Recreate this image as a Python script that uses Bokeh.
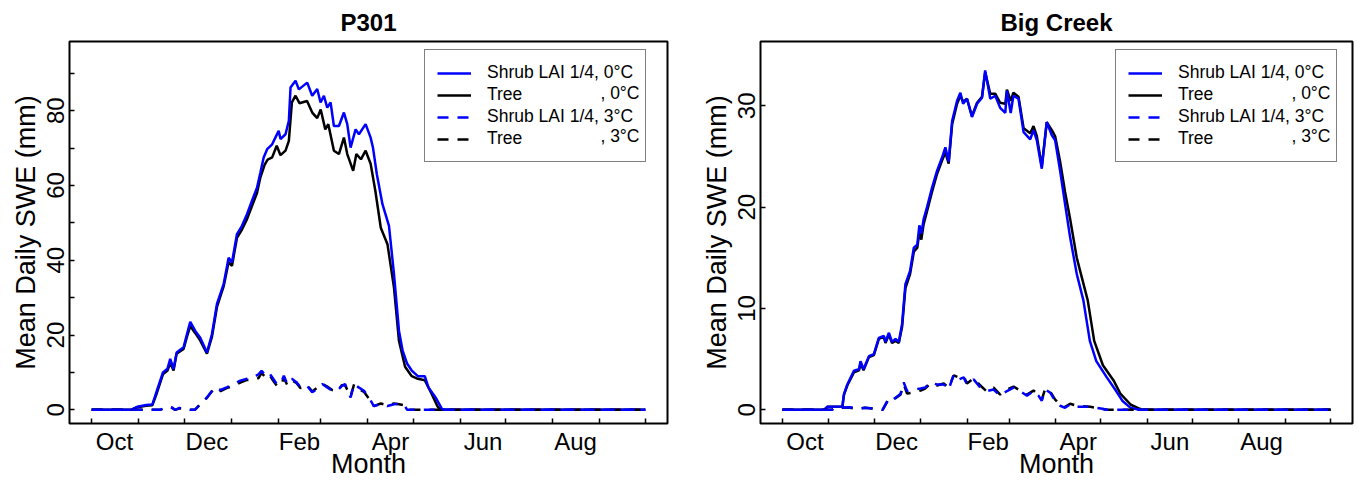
from bokeh.plotting import figure
from bokeh.layouts import row
from bokeh.models import Range1d, FixedTicker, Legend, LegendItem, Label
from bokeh.embed import file_html
from bokeh.resources import INLINE

FONT = "Liberation Sans"
BLUE = "#0000FF"
BLACK = "#000000"

# ---- axis definitions (day of water year, 0 = Oct 1) ----
month_start_days = [0, 31, 61, 92, 123, 151, 182, 212, 243, 273, 304, 335, 365]
month_label_days = [15, 76, 137, 197, 258, 319]
month_labels = ["Oct", "Dec", "Feb", "Apr", "Jun", "Aug"]

legend_labels = ["Shrub LAI 1/4, 0°C", "Tree", "Shrub LAI 1/4, 3°C", "Tree"]
legend_suffix = ["", ", 0°C", "", ", 3°C"]

# ---------------- P301 ----------------
p301_shrub0_day = [0, 26, 30, 36, 40, 43, 47, 50, 51.8, 54, 56, 60.6, 62.8, 65, 68.3, 71.6, 76, 79.3,
                   82.6, 87, 90.3, 92.5, 95.8, 99.1, 102.4, 105.7, 109, 111.2, 113.4, 115.7, 119, 121.1,
                   123.3, 124.5, 127.8, 130, 131.1, 134.4, 136.6, 142.1, 145.4, 148.7, 150.9, 153.1, 155.3,
                   157.5, 159.7, 163, 166.3, 168.5, 170.7, 174, 176.2, 180.6, 183.9, 185.5, 188, 191.7,
                   196, 199.3, 202.6, 205, 208, 211, 215, 219.6, 222, 226.7, 231, 233, 365]
p301_shrub0_swe = [0, 0, 0.8, 1.3, 1.4, 5.1, 10, 11, 13.6, 10.9, 15.3, 16.7, 20.2, 23.5, 21.1, 19.3, 15.3, 20.2,
                   28.3, 33.6, 40.7, 39.4, 47, 49.2, 52.3, 55.9, 59.4, 63.4, 67.5, 69.7, 71, 72.8,
                   74.6, 72.4, 73.7, 77.3, 86.2, 88, 85.7, 87.5, 84, 85.8, 82.2, 84, 80.8,
                   82.2, 75.9, 75.9, 79.5, 76.4, 70.1, 75, 73.7, 76.4, 72.8, 70, 63, 55,
                   49.2, 36.3, 21.1, 15.8, 12.3, 10.5, 9, 9, 6, 3.3, 0.2, 0, 0]

p301_tree0_day = [0, 26, 30, 36, 40, 43, 47, 50, 51.8, 54, 56, 60.6, 62.8, 65, 68.3, 71.6, 76, 79.3,
                  82.6, 87, 90.3, 92.5, 95.8, 99.1, 102.4, 105.7, 109, 111.2, 114, 116, 119, 122,
                  124.5, 127.8, 130, 132, 134.4, 137, 142, 145.4, 148.7, 151, 154, 156, 159.7, 163,
                  166.3, 168.5, 172.4, 174.5, 177.5, 180.6, 183.9, 187, 190.6, 195, 199.3, 202.6,
                  206.6, 211, 215, 219.6, 224, 228, 230, 365]
p301_tree0_swe = [0, 0, 0.7, 1.1, 1.2, 4.5, 9.5, 10.5, 12.5, 10.5, 15, 16.3, 19.5, 22.4, 20.5, 18.5, 15, 19.5,
                  27.5, 33, 39.5, 38.5, 46, 48.2, 51, 54.5, 58, 62.1, 65.5, 66.9, 67.5, 70.6,
                  68.1, 69.3, 71.9, 82.2, 84, 82, 82.6, 79.5, 78, 80.3, 75, 76.4, 69.3, 68.4,
                  72.8, 68.4, 63.9, 68.4, 67, 69.3, 65.8, 58.6, 48.7, 44.3, 32.7, 18.4,
                  11.5, 9, 8.3, 7.9, 4.4, 0.9, 0, 0]

p301_shrub3_day = [0, 34, 45, 50.5, 53, 55, 58, 62, 65, 68, 71.6, 76, 81, 85, 89, 93.7, 98, 102.4, 106.8,
                   110, 112, 114.5, 116.8, 119, 122, 124.5, 126.7, 129, 132, 135, 137.7, 142, 145.4,
                   148.7, 152, 155.3, 158.6, 161.8, 165, 167, 170.7, 173, 176, 179.5, 182.8, 186,
                   190.6, 195, 199.3, 202.6, 206, 208, 365]
p301_shrub3_swe = [0, 0, 0, 0.9, 0.6, 0, 0.5, 0.2, 0, 0, 1.5, 3.3, 6, 5.3, 6, 6.9, 7.8, 8.3, 8.7,
                   9.5, 10.4, 9.3, 10, 8.7, 6.9, 6.9, 9.1, 6.9, 8.3, 7.4, 6, 6.4, 4.7,
                   5.6, 6.9, 6, 5.1, 5.1, 6.4, 6.9, 3.3, 6.9, 6, 5.1, 3.3, 1,
                   1.5, 1, 1.5, 1.6, 1.3, 0, 0]

p301_tree3_day = [0, 34, 45, 50.5, 53, 55, 58, 62, 65, 68, 71.6, 76, 81, 85, 89, 93.7, 98, 102.4, 106.8,
                  110, 112, 114.5, 116.8, 119, 122, 124.5, 126.7, 129, 132, 135, 137.7, 142, 145.4,
                  148.7, 152, 155.3, 158.6, 161.8, 165, 167, 170.7, 173, 176, 179.5, 182.8, 186,
                  190.6, 195, 199.3, 202.6, 206, 208, 365]
p301_tree3_swe = [0, 0, 0, 0.8, 0.5, 0, 0.4, 0.2, 0, 0, 1.4, 3.2, 5.8, 5.0, 5.8, 6.5, 7.3, 8.0, 8.0,
                  8.5, 9.8, 8.8, 9.6, 8.2, 6.5, 6.3, 8.5, 6.6, 7.9, 7.2, 5.8, 6.6, 4.9,
                  5.9, 7.0, 6.2, 5.3, 5.0, 6.6, 6.6, 3.6, 6.8, 5.6, 4.8, 3.0, 1.0,
                  1.7, 1.2, 1.7, 1.5, 1.2, 0, 0]

# ---------------- Big Creek ----------------
bc_shrub0_day = [0, 27.7, 30, 40, 40.5, 41, 43.2, 47.6, 51, 52, 54, 57.6, 60.9, 64.2, 67.5, 68.6, 70.9, 73,
                 75.3, 77.5, 79.7, 81.9, 85, 87.5, 89.8, 91.2, 92.5, 94, 96.3, 99.6, 103, 106.3, 108.5,
                 110.7, 113, 116.3, 118.5, 120.3, 122.9, 126.2, 129.6, 132.9, 135, 138.4, 141.7, 145,
                 148.4, 149.5, 152, 153.8, 157.2, 160.6, 165, 167.2, 169.4, 172.7, 176, 179.4, 181.6,
                 184.9, 188.2, 191.6, 196, 200.4, 204.7, 209, 216, 222, 226.3, 232, 238, 365]
bc_shrub0_swe = [0, 0, 0.3, 0.33, 1.0, 1.55, 2.5, 3.85, 4, 4.8, 4.0, 5.3, 5.5, 7.1, 7.3, 6.7, 7.6, 6.7,
                 7.0, 6.7, 8.5, 12.4, 13.7, 16, 16.3, 18.2, 17.4, 18.8, 20, 21.9, 23.6, 24.9, 25.9,
                 24.5, 28.5, 30.5, 31.3, 30.2, 30.7, 28.9, 30.2, 30.8, 33.5, 30.7, 31, 29.8,
                 29.3, 31.5, 29.3, 31, 30.7, 27.4, 26.7, 27.6, 26.6, 23.8, 28.4, 27.1, 26.6,
                 23.6, 20.3, 17, 13.4, 10.8, 6.8, 4.8, 3.2, 1.9, 0.9, 0.17, 0, 0]

bc_tree0_day = [0, 27.7, 30, 40, 40.5, 41, 43.2, 47.6, 51, 52, 54, 57.6, 60.9, 64.2, 67.5, 68.6, 70.9, 73,
                75.3, 77.5, 79.7, 81.9, 85, 87.5, 89.8, 91.2, 92.5, 94, 96.3, 99.6, 103, 106.3, 108.5,
                110.7, 113, 116.3, 118.5, 120.3, 122.9, 126.2, 129.6, 132.9, 135, 138.4, 141.7, 145,
                148.4, 149.5, 152, 153.8, 157.2, 160.6, 165, 167.2, 169.4, 172.7, 176, 179.4, 181.6,
                184.9, 188.2, 191.6, 196, 203.3, 207.6, 213.4, 220.5, 225, 232, 238, 240, 365]
bc_tree0_swe = [0, 0, 0.3, 0.33, 1.0, 1.5, 2.4, 3.7, 3.9, 4.6, 3.9, 5.2, 5.4, 7.0, 7.2, 6.6, 7.4, 6.6,
                6.8, 6.6, 8.2, 12.0, 13.4, 15.6, 16.0, 17.5, 16.8, 18.3, 19.6, 21.5, 23.3, 24.6, 25.4,
                24.3, 28.2, 30.2, 31.0, 30.4, 30.7, 29.0, 30.3, 30.9, 33.3, 31.2, 31.2, 30.3,
                30.2, 31.6, 30.5, 31.3, 30.9, 27.8, 27.3, 28.0, 27.0, 24.0, 28.4, 27.6, 27.0,
                24.5, 21.5, 18.8, 15.0, 10.8, 6.8, 4.4, 2.9, 1.6, 0.5, 0.1, 0, 0]

bc_shrub3_day = [0, 33, 35, 45, 50, 55, 62, 66.7, 71, 74, 78.6, 80.8, 83, 87, 92, 95, 98.5, 103, 107.4,
                 110.7, 114.1, 117.4, 120.7, 122.9, 127.3, 131.8, 136.2, 140.6, 145, 149.5, 153.9,
                 158.3, 162.8, 167.2, 170.5, 172.7, 175, 178.3, 181.6, 185, 188.2, 191.6, 196, 205,
                 213, 216, 365]
bc_shrub3_swe = [0, 0, 0.2, 0.25, 0.1, 0.2, 0.1, 0, 1.2, 1.05, 1.55, 2.7, 1.85, 2.0, 2.1, 2.2, 2.7, 2.5, 2.5,
                 2.0, 3.5, 3.0, 3.2, 2.5, 3.0, 2.2, 1.85, 2.0, 1.4, 1.85, 2.2,
                 1.85, 1.4, 1.85, 1.4, 0.9, 2.0, 1.7, 0.9, 0.4, 0.2, 0.55, 0.3, 0.3,
                 0.1, 0, 0]

bc_tree3_day = [0, 33, 35, 45, 50, 55, 62, 66.7, 71, 74, 78.6, 80.8, 83, 87, 92, 95, 98.5, 103, 107.4,
                110.7, 114.1, 117.4, 120.7, 122.9, 127.3, 131.8, 136.2, 140.6, 145, 149.5, 153.9,
                158.3, 162.8, 167.2, 170.5, 172.7, 175, 178.3, 181.6, 185, 188.2, 191.6, 196, 205,
                213, 216, 365]
bc_tree3_swe = [0, 0, 0.2, 0.2, 0.1, 0.2, 0.1, 0, 1.1, 1.0, 1.5, 2.5, 1.6, 1.7, 1.9, 2.1, 2.6, 2.4, 2.6,
                2.2, 3.4, 3.2, 3.3, 2.6, 3.1, 2.4, 1.8, 2.2, 1.5, 2.0, 2.3,
                1.9, 1.5, 1.9, 1.5, 1.0, 2.1, 1.8, 1.0, 0.5, 0.3, 0.6, 0.4, 0.3,
                0.1, 0, 0]

FRAME_H = 382


def make_panel(title, shrub0, tree0, shrub3, tree3, y_lo, y_hi, yticks, yminor,
               width, mb_left, mb_right, legend_xy, suffix_x):
    p = figure(width=width, height=482, output_backend="svg", toolbar_location=None,
               x_range=Range1d(-14.6, 379.6), y_range=Range1d(y_lo, y_hi),
               min_border_left=mb_left, min_border_right=mb_right,
               min_border_top=41, min_border_bottom=482 - 41 - FRAME_H,
               x_axis_label="Month", y_axis_label="Mean Daily SWE (mm)")
    p.title.text = title
    p.title.align = "center"
    p.title.text_font = FONT
    p.title.text_font_size = "24px"
    p.title.text_font_style = "bold"
    p.title.text_color = "black"
    p.title.standoff = 12
    p.xgrid.visible = False
    p.ygrid.visible = False
    p.outline_line_color = "black"
    p.outline_line_width = 2
    p.background_fill_color = "white"
    p.border_fill_color = "white"

    xa = p.xaxis[0]
    xa.ticker = FixedTicker(ticks=month_label_days, minor_ticks=month_start_days)
    xa.major_label_overrides = {d: m for d, m in zip(month_label_days, month_labels)}
    xa.major_tick_in = 0
    xa.major_tick_out = 0
    xa.major_tick_line_color = None
    xa.minor_tick_in = 5
    xa.minor_tick_out = 0
    xa.minor_tick_line_width = 1.5
    xa.minor_tick_line_color = "black"
    xa.axis_line_color = None
    xa.major_label_standoff = 4
    xa.major_label_text_font = FONT
    xa.major_label_text_font_size = "24px"
    xa.major_label_text_color = "black"
    xa.axis_label_text_font = FONT
    xa.axis_label_text_font_size = "27px"
    xa.axis_label_text_font_style = "normal"
    xa.axis_label_text_color = "black"
    xa.axis_label_standoff = -9

    ya = p.yaxis[0]
    ya.ticker = FixedTicker(ticks=yticks, minor_ticks=yminor)
    ya.major_tick_in = 5
    ya.major_tick_out = 0
    ya.major_tick_line_width = 1.5
    ya.major_tick_line_color = "black"
    ya.minor_tick_in = 5
    ya.minor_tick_out = 0
    ya.minor_tick_line_width = 1.5
    ya.minor_tick_line_color = "black"
    ya.axis_line_color = None
    ya.major_label_orientation = "vertical"
    ya.major_label_standoff = 5
    ya.major_label_text_font = FONT
    ya.major_label_text_font_size = "24px"
    ya.major_label_text_color = "black"
    ya.axis_label_text_font = FONT
    ya.axis_label_text_font_size = "27px"
    ya.axis_label_text_font_style = "normal"
    ya.axis_label_text_color = "black"
    ya.axis_label_standoff = 4

    rk0 = p.line(tree0[0], tree0[1], line_color=BLACK, line_width=2.5)
    rb0 = p.line(shrub0[0], shrub0[1], line_color=BLUE, line_width=2.5)
    rk3 = p.line(tree3[0], tree3[1], line_color=BLACK, line_width=2.5, line_dash="11 9")
    rb3 = p.line(shrub3[0], shrub3[1], line_color=BLUE, line_width=2.5, line_dash="11 9")

    items = [LegendItem(label=legend_labels[0], renderers=[rb0]),
             LegendItem(label=legend_labels[1], renderers=[rk0]),
             LegendItem(label=legend_labels[2], renderers=[rb3]),
             LegendItem(label=legend_labels[3], renderers=[rk3])]
    leg = Legend(items=items, location=legend_xy, margin=0, padding=12, spacing=1,
                 glyph_width=34, glyph_height=20, label_height=20, label_standoff=16,
                 label_text_font=FONT, label_text_font_size="17.5px", label_text_color="black",
                 border_line_color="black", border_line_width=1.5,
                 background_fill_alpha=0.0)
    p.add_layout(leg)

    for txt, yrow in ((legend_suffix[1], 330.7), (legend_suffix[3], 288.0)):
        p.add_layout(Label(x=suffix_x, y=yrow, x_units="screen", y_units="screen", text=txt,
                           text_align="right", text_baseline="middle", text_font=FONT,
                           text_font_size="17.5px", text_color="black", level="overlay"))
    return p


left = make_panel("P301",
                  (p301_shrub0_day, p301_shrub0_swe), (p301_tree0_day, p301_tree0_swe),
                  (p301_shrub3_day, p301_shrub3_swe), (p301_tree3_day, p301_tree3_swe),
                  -3.66, 98.5, [0, 20, 40, 60, 80], [10, 30, 50, 70, 90],
                  688, 69, 21, (355, 261), 570)
right = make_panel("Big Creek",
                   (bc_shrub0_day, bc_shrub0_swe), (bc_tree0_day, bc_tree0_swe),
                   (bc_shrub3_day, bc_shrub3_swe), (bc_tree3_day, bc_tree3_swe),
                   -1.35, 36.35, [0, 10, 20, 30], [],
                   671, 72, 7, (355, 261), 570)

layout = row(left, right)
open("out.html", "w").write(file_html(layout, INLINE))
